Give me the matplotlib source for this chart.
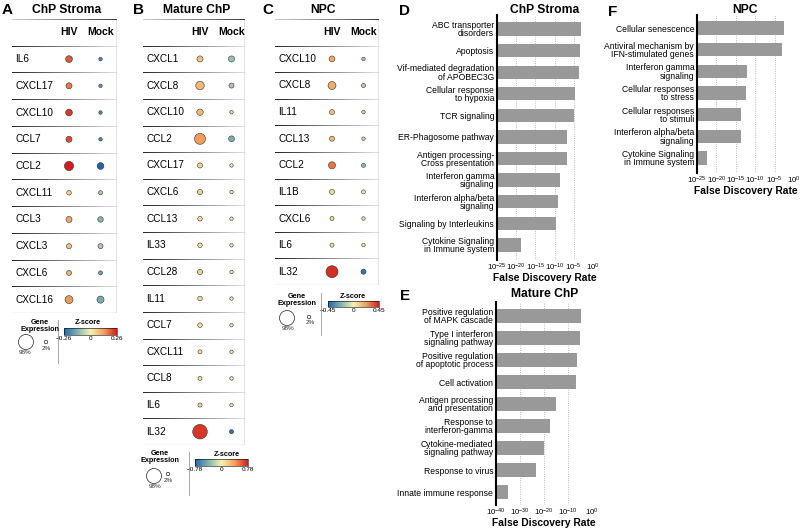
import matplotlib
matplotlib.use('Agg')
import matplotlib.pyplot as plt
import numpy as np
from matplotlib.colors import LinearSegmentedColormap, Normalize
from matplotlib.collections import LineCollection
from matplotlib.cm import ScalarMappable
from matplotlib.ticker import NullLocator

plt.rcParams['font.family'] = ['Liberation Sans', 'DejaVu Sans']
plt.rcParams['mathtext.default'] = 'regular'

# ---- data: dot plots (percent expressing, z-score) ----
genes_a = ['IL6', 'CXCL17', 'CXCL10', 'CCL7', 'CCL2', 'CXCL11', 'CCL3', 'CXCL3', 'CXCL6', 'CXCL16']
hiv_pct_a = [17, 13, 17, 13, 35, 6, 13, 8, 8, 25]
mock_pct_a = [2, 2, 2, 2, 17, 4, 10, 8, 4, 19]
hiv_z_a = [0.20, 0.17, 0.23, 0.21, 0.26, 0.05, 0.12, 0.08, 0.10, 0.14]
mock_z_a = [-0.20, -0.18, -0.20, -0.20, -0.26, -0.08, -0.12, -0.08, -0.15, -0.14]
zmax_a = 0.26

genes_b = ['CXCL1', 'CXCL8', 'CXCL10', 'CCL2', 'CXCL17', 'CXCL6', 'CCL13', 'IL33', 'CCL28',
           'IL11', 'CCL7', 'CXCL11', 'CCL8', 'IL6', 'IL32']
hiv_pct_b = [13, 29, 15, 51, 8, 8, 6, 6, 8, 6, 6, 4, 4, 4, 92]
mock_pct_b = [13, 8, 2, 12, 2, 2, 2, 2, 2, 2, 2, 2, 2, 2, 4]
hiv_z_b = [0.22, 0.28, 0.28, 0.40, 0.15, 0.15, 0.12, 0.10, 0.15, 0.10, 0.10, 0.08, 0.08, 0.10, 0.70]
mock_z_b = [-0.30, -0.25, -0.10, -0.40, -0.05, -0.05, -0.05, -0.05, -0.05, -0.05, -0.05, -0.05,
            -0.05, -0.05, -0.72]
zmax_b = 0.78

genes_c = ['CXCL10', 'CXCL8', 'IL11', 'CCL13', 'CCL2', 'IL1B', 'CXCL6', 'IL6', 'IL32']
hiv_pct_c = [12, 25, 8, 8, 19, 8, 4, 4, 61]
mock_pct_c = [2, 4, 2, 2, 4, 4, 2, 2, 8]
hiv_z_c = [0.20, 0.20, 0.15, 0.15, 0.30, 0.07, 0.07, 0.05, 0.42]
mock_z_c = [-0.15, -0.12, -0.08, -0.08, -0.20, -0.03, -0.05, -0.03, -0.40]
zmax_c = 0.45

# ---- data: enrichment bars (FDR) ----
terms_d = ['ABC transporter\ndisorders', 'Apoptosis', 'Vif-mediated degradation\nof APOBEC3G',
           'Cellular response\nto hypoxia', 'TCR signaling', 'ER-Phagosome pathway',
           'Antigen processing-\nCross presentation', 'Interferon gamma\nsignaling',
           'Interferon alpha/beta\nsignaling', 'Signaling by Interleukins',
           'Cytokine Signaling\nin Immune system']
fdr_d = [6e-4, 4e-4, 1.8e-4, 2e-5, 1.3e-5, 2e-7, 1.6e-7, 2e-9, 1e-9, 3e-10, 2e-19]

terms_e = ['Positive regulation\nof MAPK cascade', 'Type I interferon\nsignaling pathway',
           'Positive regulation\nof apoptotic process', 'Cell activation',
           'Antigen processing\nand presentation', 'Response to\ninterferon-gamma',
           'Cytokine-mediated\nsignaling pathway', 'Response to virus', 'Innate immune response']
fdr_e = [2.5e-5, 1e-5, 4e-7, 3e-7, 1e-15, 3e-18, 1e-20, 5e-24, 1.3e-35]

terms_f = ['Cellular senescence', 'Antiviral mechanism by\nIFN-stimulated genes',
           'Interferon gamma\nsignaling', 'Cellular responses\nto stress',
           'Cellular responses\nto stimuli', 'Interferon alpha/beta\nsignaling',
           'Cytokine Signaling\nin Immune system']
fdr_f = [3e-3, 8e-4, 8e-13, 4e-13, 2.5e-14, 2e-14, 4e-23]

W, H = 800, 529
fig = plt.figure(figsize=(8, 5.29), dpi=100)

cmap = LinearSegmentedColormap.from_list(
    'z', ['#2166ac', '#80b2b0', '#f6f1b0', '#f2a15e', '#d01c1c'])


def px_axes(x0, y0, x1, y1):
    return fig.add_axes([x0 / W, 1 - y1 / H, (x1 - x0) / W, (y1 - y0) / H])


def dot_size(p):
    return 4 + 1.15 * np.asarray(p, dtype=float)


def grad_line(ax, y, x0, x1, c0, c1, lw=0.7):
    xs = np.linspace(x0, x1, 60)
    segs = [[(xs[i], y), (xs[i + 1], y)] for i in range(len(xs) - 1)]
    t = np.linspace(0, 1, len(segs))[:, None]
    cols = (1 - t) * np.array(c0) + t * np.array(c1)
    ax.add_collection(LineCollection(segs, colors=cols, linewidths=lw,
                                     capstyle='projecting', antialiaseds=False))


def dot_panel(rect, genes, hiv_pct, mock_pct, hiv_z, mock_z, zmax):
    ax = px_axes(*rect)
    w = rect[2] - rect[0]
    n = len(genes)
    lo, hi = -57 / 31.5, (w - 57) / 31.5
    ax.set_xlim(lo, hi)
    ax.set_ylim(n + 0.5, -0.5)
    ax.axis('off')
    y = np.arange(1, n + 1)
    norm = Normalize(-zmax, zmax)
    ax.scatter(np.zeros(n), y, s=dot_size(hiv_pct), c=hiv_z, cmap=cmap, norm=norm,
               edgecolors='#333333', linewidths=0.4, zorder=3)
    ax.scatter(np.ones(n), y, s=dot_size(mock_pct), c=mock_z, cmap=cmap, norm=norm,
               edgecolors='#333333', linewidths=0.4, zorder=3)
    for g, yy in zip(genes, y):
        ax.text(-1.71, yy, g, fontsize=7.2, ha='left', va='center')
    ax.text(0, 0, 'HIV', fontsize=7.5, fontweight='bold', ha='center', va='center')
    ax.text(1, 0, 'Mock', fontsize=7.5, fontweight='bold', ha='center', va='center')
    for k in range(n):
        grad_line(ax, k + 0.5, lo, hi, (0.15, 0.15, 0.15), (0.88, 0.88, 0.88))
    grad_line(ax, -0.5, lo, hi, (0.8, 0.8, 0.8), (0.25, 0.25, 0.25))
    ax.plot([lo, hi], [n + 0.5, n + 0.5], color='#555555', lw=0.8)
    ax.plot([hi, hi], [-0.5, n + 0.5], color='#333333', lw=0.9)
    return ax


def bar_panel(rect, terms, fdr, lo, ticks, ylim, height):
    ax = px_axes(*rect)
    y = np.arange(len(terms))
    ax.barh(y, np.array(fdr) - lo, left=lo, height=height, color='#999999', zorder=2)
    ax.set_xscale('log')
    ax.set_xlim(lo, 1)
    ax.set_ylim(*ylim)
    ax.set_yticks(y)
    ax.set_yticklabels(terms, fontsize=6.2, linespacing=0.9)
    ax.tick_params(axis='y', length=0, pad=2)
    ax.set_xticks(ticks)
    ax.set_xticklabels(['$10^{%d}$' % int(round(np.log10(t))) for t in ticks], fontsize=5.6)
    ax.xaxis.set_minor_locator(NullLocator())
    ax.tick_params(axis='x', length=0, pad=1.2)
    ax.grid(axis='x', ls=':', color='#aaaaaa', lw=0.6, zorder=0)
    for s in ['top', 'right', 'bottom']:
        ax.spines[s].set_visible(False)
    ax.spines['left'].set_linewidth(1.5)
    ax.set_xlabel('False Discovery Rate', fontsize=7.4, fontweight='bold', labelpad=0)
    return ax


def z_bar(x0, y0, x1, y1, zmax):
    cax = px_axes(x0, y0, x1, y1)
    sm = ScalarMappable(norm=Normalize(-zmax, zmax), cmap=cmap)
    cb = fig.colorbar(sm, cax=cax, orientation='horizontal', ticks=[-zmax, 0, zmax])
    cb.ax.set_xticklabels(['\u2212%g' % zmax, '0', '%g' % zmax])
    cb.ax.tick_params(labelsize=4.6, length=0, pad=0.5)
    cb.outline.set_linewidth(0.4)


dot_panel((12, 19, 117, 313), genes_a, hiv_pct_a, mock_pct_a, hiv_z_a, mock_z_a, zmax_a)
dot_panel((143, 19, 245, 445), genes_b, hiv_pct_b, mock_pct_b, hiv_z_b, mock_z_b, zmax_b)
dot_panel((275, 19, 379, 285), genes_c, hiv_pct_c, mock_pct_c, hiv_z_c, mock_z_c, zmax_c)

bar_panel((497, 15, 593, 260), terms_d, fdr_d, 1e-25, [1e-25, 1e-20, 1e-15, 1e-10, 1e-5, 1],
          (10.7, -0.65), 0.62)
bar_panel((496, 302, 592, 505), terms_e, fdr_e, 1e-40, [1e-40, 1e-30, 1e-20, 1e-10, 1],
          (8.59, -0.64), 0.62)
bar_panel((697, 15, 794, 173), terms_f, fdr_f, 1e-25, [1e-25, 1e-20, 1e-15, 1e-10, 1e-5, 1],
          (6.69, -0.6), 0.62)

z_bar(64, 328, 117, 335, zmax_a)
z_bar(195, 459, 248, 466, zmax_b)
z_bar(328, 301, 379, 307, zmax_c)

# overlay for letters, titles and legends
ov = fig.add_axes([0, 0, 1, 1])
ov.set_xlim(0, W)
ov.set_ylim(H, 0)
ov.axis('off')

for lab, x, y in [('A', 7, 10), ('B', 139, 10), ('C', 268, 10), ('D', 404, 11),
                  ('E', 405, 296), ('F', 613, 12)]:
    ov.text(x, y, lab, fontsize=11, fontweight='bold', ha='center', va='center')
for t, x, y in [('ChP Stroma', 67, 10), ('Mature ChP', 197, 10), ('NPC', 323, 10),
                ('ChP Stroma', 545, 10), ('Mature ChP', 545, 294), ('NPC', 745, 10)]:
    ov.text(x, y, t, fontsize=8.7, fontweight='bold', ha='center', va='center')

legend_pos = [
    # title, big circle, 98%, small circle, 2%, divider x, divider y0/y1, z title
    ((40, 326), (26, 342), (25, 353), (46, 342), (46, 349), 58, (320, 363), (88, 323)),
    ((160, 457), (154, 476), (155, 487), (168, 474), (168, 480), 189, (452, 495), (227, 455)),
    ((297, 300), (287, 318), (288, 329), (309, 317), (310, 323), 321, (293, 335), (353, 297)),
]
for tp, bp, bt, sp, st, dx, dy, zt in legend_pos:
    ov.text(tp[0], tp[1], 'Gene\nExpression', fontsize=5.2, fontweight='bold', ha='center',
            va='center', linespacing=0.9)
    ov.scatter([bp[0], sp[0]], [bp[1], sp[1]], s=dot_size([98, 2]), facecolors='white',
               edgecolors='#222222', linewidths=0.5)
    ov.text(bt[0], bt[1], '98%', fontsize=4.6, ha='center', va='center', color='#333333')
    ov.text(st[0], st[1], '2%', fontsize=4.6, ha='center', va='center', color='#333333')
    ov.plot([dx, dx], dy, color='#999999', lw=0.6)
    ov.text(zt[0], zt[1], 'Z-score', fontsize=5.2, fontweight='bold', ha='center', va='center')

fig.savefig('out.png', dpi=100)
